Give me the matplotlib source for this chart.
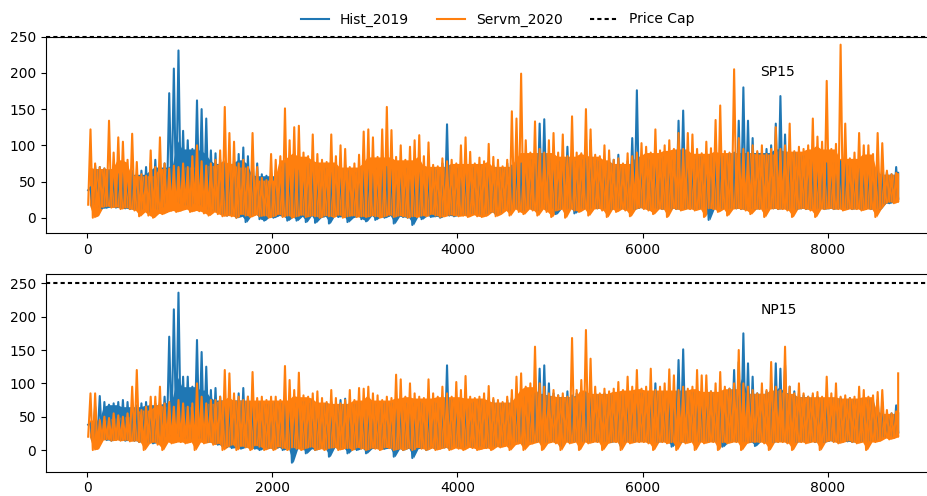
import numpy as np
import matplotlib
matplotlib.use("Agg")
import matplotlib.pyplot as plt

# Hourly prices summarised per 50-hour bin as (low, high)
HOURS_PER_BIN = 50
N_HOURS = 8760
PRICE_CAP = 250

# ---------------- SP15 ----------------
sp15_servm_hi = [
    122, 75, 70, 68, 134, 90, 111, 105, 80, 116,
    77, 60, 58, 93, 70, 111, 75, 68, 72, 70,
    75, 70, 85, 100, 78, 72, 75, 80, 93, 153,
    117, 105, 75, 80, 70, 117, 70, 55, 52, 88,
    80, 85, 151, 107, 125, 127, 90, 85, 115, 88,
    80, 77, 115, 85, 100, 95, 70, 75, 87, 119,
    122, 111, 84, 122, 153, 121, 84, 100, 80, 98,
    107, 114, 85, 104, 73, 71, 82, 78, 80, 75,
    100, 111, 91, 75, 83, 78, 102, 84, 80, 71,
    80, 147, 137, 199, 107, 90, 133, 95, 90, 107,
    117, 90, 115, 85, 140, 90, 89, 150, 122, 87,
    85, 100, 93, 80, 82, 75, 89, 85, 90, 103,
    98, 90, 122, 93, 100, 107, 95, 117, 95, 117,
    115, 95, 89, 105, 96, 135, 155, 92, 90, 205,
    110, 95, 90, 100, 92, 100, 88, 95, 125, 95,
    100, 130, 92, 98, 95, 100, 137, 112, 105, 189,
    95, 102, 239, 130, 82, 90, 117, 100, 100, 88,
    117, 103, 65, 60, 62, 60]
sp15_servm_lo = [
    18, 0, 3, 15, 16, 14, 15, 12, 14, 12,
    10, 2, 8, 3, 0, 6, 5, 8, 10, 8,
    10, 12, 8, 10, 9, 6, 3, 8, 5, 2,
    3, 2, 0, 5, 3, 1, 4, 2, 3, 0,
    2, 5, 1, 3, 0, 2, 4, 1, 3, 2,
    0, 3, 2, 1, 4, 0, 2, 3, 1, 2,
    1, 3, 2, 0, 2, 4, 1, 3, 2, 0,
    2, 1, 3, 2, 5, 3, 1, 2, 4, 3,
    2, 3, 1, 4, 2, 1, 3, 8, 2, 5,
    10, 3, 12, 8, 5, 12, 10, 3, 12, 8,
    1, 10, 12, 0, 12, 10, 8, 12, 3, 12,
    13, 10, 1, 12, 8, 12, 10, 2, 12, 14,
    12, 10, 5, 12, 12, 1, 13, 12, 10, 12,
    12, 10, 12, 1, 13, 12, 8, 12, 3, 12,
    13, 12, 10, 5, 12, 12, 1, 12, 13, 12,
    12, 10, 1, 12, 13, 12, 10, 1, 12, 12,
    13, 12, 12, 10, 12, 12, 12, 10, 12, 12,
    1, 12, 20, 22, 20, 22]
sp15_hist_hi = [
    42, 72, 70, 68, 65, 62, 60, 63, 60, 65,
    60, 65, 70, 75, 80, 70, 75, 172, 206, 231,
    120, 107, 95, 162, 150, 137, 93, 89, 80, 75,
    85, 80, 88, 97, 85, 83, 75, 60, 58, 62,
    65, 70, 75, 70, 72, 65, 70, 75, 80, 70,
    65, 68, 62, 70, 66, 73, 65, 62, 68, 70,
    70, 65, 68, 72, 70, 66, 65, 70, 68, 65,
    70, 68, 65, 67, 70, 66, 75, 129, 72, 68,
    70, 72, 68, 70, 73, 70, 75, 72, 70, 68,
    75, 72, 80, 75, 78, 80, 85, 130, 136, 85,
    80, 78, 75, 98, 80, 78, 80, 82, 107, 80,
    78, 80, 82, 80, 87, 70, 78, 110, 176, 85,
    82, 80, 85, 82, 84, 85, 80, 134, 148, 85,
    82, 85, 84, 86, 88, 85, 90, 85, 88, 90,
    134, 180, 134, 110, 90, 90, 95, 100, 130, 168,
    115, 95, 90, 88, 85, 80, 78, 75, 78, 75,
    75, 76, 78, 75, 72, 74, 75, 70, 72, 70,
    72, 70, 63, 60, 70, 62]
sp15_hist_lo = [
    38, 14, 15, 13, 14, 15, 14, 14, 13, 12,
    12, 10, 12, 8, 12, 12, 15, 20, 25, 22,
    20, 18, 15, 20, 18, 15, 12, 10, 8, 5,
    3, 5, 0, 2, -6, 3, 5, -2, -4, 2,
    0, 3, 2, -4, 1, -4, 2, -6, 3, -7,
    0, 2, -8, 3, 1, 2, -6, 0, 2, -2,
    -5, 3, -3, 2, 0, 3, -8, 2, 1, 0,
    -10, 2, -2, 3, 1, 2, 0, 4, 3, 2,
    4, 5, 3, 6, 5, 4, 6, 8, 5, 7,
    12, 10, 13, 12, 10, 13, 12, 10, 13, 12,
    13, 5, 13, 12, 13, 6, 12, 13, 12, 13,
    13, 12, 13, 12, 13, 13, 12, 13, 12, 14,
    13, 12, 13, 13, 12, 13, 13, 12, 12, 13,
    13, 12, 13, 12, -3, 13, 12, 13, 12, 13,
    13, 12, 12, 13, 12, 13, 12, 13, 13, 12,
    13, 12, 13, 12, 13, 12, 13, 12, 13, 12,
    13, 12, 13, 12, 13, 12, 13, 12, 13, 12,
    13, 12, 20, 20, 22, 25]

# ---------------- NP15 ----------------
np15_servm_hi = [
    85, 85, 45, 50, 48, 55, 52, 50, 55, 95,
    120, 60, 65, 80, 80, 95, 70, 72, 65, 75,
    70, 65, 70, 100, 80, 70, 75, 75, 80, 120,
    115, 85, 80, 75, 80, 117, 78, 80, 75, 80,
    80, 75, 126, 105, 90, 116, 82, 80, 85, 88,
    78, 72, 90, 78, 70, 75, 90, 75, 93, 92,
    95, 85, 82, 75, 80, 78, 113, 106, 80, 100,
    85, 80, 78, 106, 85, 80, 95, 85, 80, 102,
    90, 111, 80, 78, 80, 85, 96, 78, 75, 72,
    80, 90, 110, 115, 95, 100, 155, 100, 95, 85,
    90, 82, 85, 80, 168, 90, 105, 180, 137, 95,
    85, 92, 88, 92, 102, 90, 110, 95, 120, 92,
    95, 122, 90, 95, 100, 121, 112, 90, 95, 92,
    95, 120, 112, 112, 88, 100, 117, 95, 92, 100,
    150, 100, 95, 90, 85, 100, 90, 132, 95, 90,
    155, 95, 85, 100, 85, 80, 85, 87, 80, 110,
    85, 100, 80, 82, 78, 80, 95, 90, 80, 82,
    87, 90, 60, 55, 58, 115]
np15_servm_lo = [
    20, 0, 2, 15, 16, 14, 15, 14, 15, 13,
    14, 12, 0, 10, 12, 8, 0, 12, 10, 12,
    12, 10, 12, 0, 12, 10, 12, 8, 10, 0,
    5, 8, 0, 6, 4, 0, 7, 5, 0, 3,
    0, 5, 3, 0, 4, 2, 0, 3, 5, 0,
    2, 0, 3, 4, 0, 2, 3, 0, 4, 2,
    0, 3, 2, 0, 4, 3, 0, 2, 0, 3,
    0, 4, 2, 0, 3, 0, 2, 4, 0, 3,
    2, 0, 4, 3, 0, 2, 3, 0, 5, 4,
    6, 0, 8, 10, 0, 8, 10, 12, 0, 10,
    12, 10, 0, 12, 10, 12, 0, 12, 10, 12,
    12, 0, 10, 12, 12, 0, 12, 10, 12, 12,
    12, 10, 0, 12, 12, 10, 12, 0, 12, 10,
    12, 0, 12, 10, 12, 12, 0, 12, 10, 12,
    12, 0, 10, 12, 12, 12, 10, 0, 12, 12,
    12, 10, 0, 12, 12, 10, 12, 12, 0, 12,
    14, 12, 10, 12, 14, 12, 10, 12, 0, 12,
    12, 14, 18, 16, 18, 20]
np15_hist_hi = [
    40, 65, 81, 72, 68, 70, 72, 75, 72, 65,
    67, 70, 72, 68, 70, 72, 80, 170, 211, 236,
    110, 110, 95, 165, 147, 125, 90, 93, 80, 75,
    78, 75, 85, 93, 80, 75, 70, 72, 68, 70,
    72, 70, 75, 72, 70, 68, 72, 70, 75, 70,
    68, 70, 72, 68, 75, 77, 70, 68, 72, 70,
    70, 72, 68, 70, 72, 70, 75, 72, 70, 68,
    70, 72, 70, 68, 72, 70, 75, 127, 75, 72,
    72, 75, 70, 72, 75, 72, 78, 75, 72, 70,
    75, 78, 80, 78, 80, 82, 85, 122, 127, 100,
    85, 82, 80, 88, 82, 85, 84, 86, 106, 85,
    82, 85, 84, 82, 85, 84, 86, 84, 88, 85,
    86, 88, 100, 85, 88, 87, 85, 135, 151, 88,
    86, 88, 85, 90, 88, 86, 90, 88, 92, 120,
    132, 175, 130, 110, 85, 85, 88, 100, 130, 122,
    127, 95, 88, 85, 82, 80, 82, 80, 78, 80,
    78, 80, 78, 76, 78, 75, 78, 76, 75, 74,
    75, 72, 52, 55, 67, 55]
np15_hist_lo = [
    38, 14, 15, 16, 15, 14, 16, 15, 14, 15,
    14, 12, 14, 12, 10, 12, 14, 20, 22, 25,
    20, 18, 16, 20, 18, 15, 12, 10, 8, 6,
    5, 3, 4, 2, 5, 3, 2, 0, 4, 3,
    2, 4, 0, 3, -19, 2, 3, -5, 2, 0,
    3, 2, -10, 4, 2, 3, -5, 2, 0, 3,
    -5, 2, 3, 1, 2, 3, -10, 2, 0, 3,
    -12, 2, 3, 0, 4, 2, 3, 4, 2, 5,
    5, 4, 6, 5, 4, 6, 4, 5, 6, 6,
    10, 8, 12, 12, 8, 12, 12, 13, 8, 12,
    13, 12, 6, 13, 12, 13, 12, 13, 12, 13,
    13, 12, 13, 12, 13, 6, 13, 12, 13, 13,
    13, 12, 13, 12, 13, 12, 5, 13, 12, 13,
    13, 12, 13, 12, 13, 13, 12, 5, 12, 13,
    13, 12, 13, 12, 6, 13, 12, 13, 12, 13,
    13, 12, 13, 12, 13, 12, 13, 12, 13, 12,
    14, 13, 12, 14, 13, 12, 14, 13, 12, 14,
    15, 16, 20, 22, 20, 25]

series_labels = ["Hist_2019", "Servm_2020", "Price Cap"]
panel_names = ["SP15", "NP15"]
colors = ["#1f77b4", "#ff7f0e"]


def minmax_trace(lo, hi):
    lo = np.asarray(lo, float)
    hi = np.asarray(hi, float)
    start = np.arange(len(lo)) * HOURS_PER_BIN
    x = np.column_stack([start + 0.25 * HOURS_PER_BIN,
                         start + 0.75 * HOURS_PER_BIN]).ravel()
    y = np.column_stack([lo, hi]).ravel()
    return np.minimum(x, N_HOURS - 1), y


def dense_band(lo, hi, reach=2):
    # solid part of the daily oscillation: from the bin low up to the
    # lowest of the nearby bin highs
    lo = np.asarray(lo, float)
    hi = np.asarray(hi, float)
    padded = np.r_[[hi[0]] * reach, hi, [hi[-1]] * reach]
    core = np.min([padded[k:k + len(hi)] for k in range(2 * reach + 1)], axis=0)
    centers = np.minimum(np.arange(len(lo)) * HOURS_PER_BIN + 0.5 * HOURS_PER_BIN,
                         N_HOURS - 1)
    return centers, lo, np.maximum(core, lo)


fig = plt.figure(figsize=(9.27, 4.96), dpi=100)
W, H = 927.0, 496.0
ax_top = fig.add_axes([46 / W, 1 - 233.3 / H, 893 / W, (233.3 - 36.7) / H])
ax_bot = fig.add_axes([46 / W, 1 - 471.7 / H, 893 / W, (471.7 - 274.0) / H])

panels = [
    (ax_top, [(sp15_hist_lo, sp15_hist_hi), (sp15_servm_lo, sp15_servm_hi)], (-21.5, 250)),
    (ax_bot, [(np15_hist_lo, np15_hist_hi), (np15_servm_lo, np15_servm_hi)], (-32.5, 264)),
]

for (ax, series, ylim), name in zip(panels, panel_names):
    for (lo, hi), col, lab in zip(series, colors, series_labels[:2]):
        cx, blo, bhi = dense_band(lo, hi)
        ax.fill_between(cx, blo, bhi, color=col, lw=0)
        xs, ys = minmax_trace(lo, hi)
        ax.plot(xs, ys, color=col, lw=1.5, label=lab)
    ax.axhline(PRICE_CAP, color="black", ls=(0, (2, 1.5)), lw=1.5,
               label=series_labels[2], clip_on=False, zorder=5)
    ax.set_xlim(-443, 9200)
    ax.set_ylim(*ylim)
    ax.set_xticks([0, 2000, 4000, 6000, 8000])
    ax.set_yticks([0, 50, 100, 150, 200, 250])
    ax.tick_params(labelsize=10)
    ax.text(0.8, 0.8, name, transform=ax.transAxes, fontsize=10)

handles, labels = ax_top.get_legend_handles_labels()
fig.legend(handles, labels, loc="upper center", ncol=3, frameon=False,
           bbox_to_anchor=(0.537, 1.0), fontsize=10)

fig.savefig("out.png", dpi=100)
